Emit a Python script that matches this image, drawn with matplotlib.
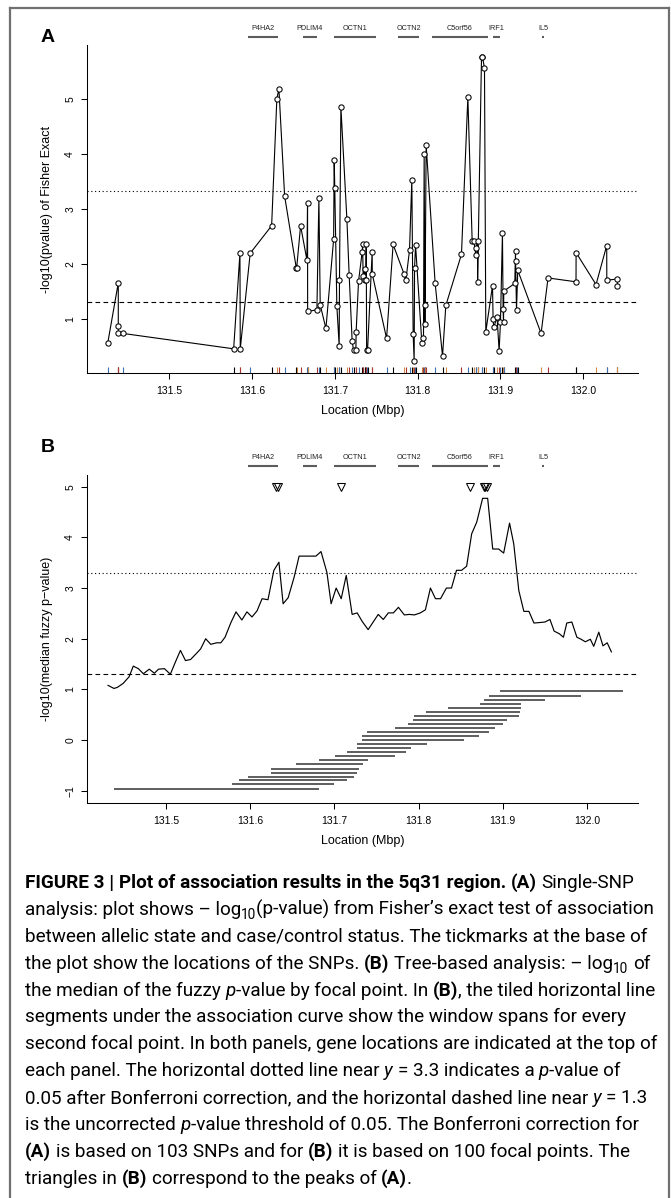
import numpy as np
import matplotlib
matplotlib.use("Agg")
import matplotlib.pyplot as plt
from matplotlib import font_manager
from matplotlib.font_manager import FontProperties
from matplotlib.lines import Line2D

W, H = 671, 1198

### Panel A: -log10 p of Fisher exact test per SNP (Mbp, value)
snp_pos = [131.4256, 131.4384, 131.4384, 131.4386, 131.4441, 131.5778, 131.5854, 131.5858,
           131.5978, 131.6237, 131.6300, 131.6325, 131.6394, 131.6534, 131.6540, 131.6587,
           131.6663, 131.6671, 131.6672, 131.6784, 131.6808, 131.6824, 131.6893, 131.6986,
           131.6993, 131.7000, 131.7025, 131.7053, 131.7057, 131.7074, 131.7146, 131.7174,
           131.7210, 131.7227, 131.7255, 131.7258, 131.7287, 131.7331, 131.7336, 131.7343,
           131.7360, 131.7363, 131.7375, 131.7380, 131.7385, 131.7396, 131.7452, 131.7453,
           131.7626, 131.7705, 131.7835, 131.7859, 131.7903, 131.7931, 131.7947, 131.7959,
           131.7964, 131.7976, 131.8052, 131.8072, 131.8080, 131.8088, 131.8089, 131.8104,
           131.8213, 131.8302, 131.8342, 131.8531, 131.8608, 131.8660, 131.8680, 131.8705,
           131.8708, 131.8725, 131.8726, 131.8773, 131.8785, 131.8809, 131.8825, 131.8906,
           131.8913, 131.8921, 131.8961, 131.8986, 131.9002, 131.9026, 131.9034, 131.9039,
           131.9042, 131.9175, 131.9184, 131.9185, 131.9196, 131.9211, 131.9493, 131.9577,
           131.9915, 131.9916, 132.0157, 132.0286, 132.0287, 132.0415, 132.0416]
snp_logp = [0.55, 1.65, 0.86, 0.73, 0.73, 0.45, 2.19, 0.45,
            2.19, 2.69, 5.00, 5.18, 3.23, 1.93, 1.93, 2.69,
            2.07, 3.11, 1.13, 1.16, 3.19, 1.25, 0.82, 2.44,
            3.88, 3.37, 1.23, 0.51, 1.70, 4.85, 2.82, 1.79,
            0.59, 0.42, 0.42, 0.76, 1.68, 2.21, 2.35, 1.77,
            1.90, 1.71, 1.70, 2.35, 0.42, 0.42, 2.22, 1.81,
            0.64, 2.35, 1.82, 1.70, 2.24, 3.53, 0.72, 0.23,
            1.92, 2.34, 0.56, 0.65, 4.00, 1.24, 0.90, 4.16,
            1.64, 0.32, 1.24, 2.17, 5.03, 2.42, 2.42, 2.15,
            2.29, 2.42, 1.67, 5.76, 5.76, 5.56, 0.76, 1.60,
            0.99, 0.84, 1.03, 0.41, 0.93, 2.56, 1.17, 0.93,
            1.50, 1.64, 2.23, 2.05, 1.16, 1.88, 0.73, 1.74,
            1.67, 2.20, 1.62, 2.33, 1.70, 1.72, 1.60]

### gene track (same drawing in both panels)
gene_names = ["P4HA2", "PDLIM4", "OCTN1", "OCTN2", "C5orf56", "IRF1", "IL5"]
gene_start = [131.5953, 131.6615, 131.6987, 131.7762, 131.8175, 131.8909, 131.9508]
gene_end = [131.6314, 131.6780, 131.7504, 131.8019, 131.8847, 131.9001, 131.9529]

### Panel B: median fuzzy p-value by focal point
focal_pos = [131.431, 131.438, 131.442, 131.449, 131.456, 131.461, 131.467, 131.473, 131.480, 131.486,
             131.491, 131.498, 131.505, 131.511, 131.517, 131.523, 131.529, 131.536, 131.541, 131.547,
             131.553, 131.560, 131.565, 131.570, 131.577, 131.583, 131.590, 131.596, 131.602, 131.608,
             131.614, 131.621, 131.628, 131.634, 131.639, 131.645, 131.652, 131.658, 131.665, 131.671,
             131.678, 131.684, 131.691, 131.696, 131.702, 131.708, 131.714, 131.721, 131.727, 131.733,
             131.740, 131.746, 131.752, 131.758, 131.764, 131.770, 131.776, 131.783, 131.789, 131.795,
             131.802, 131.808, 131.814, 131.820, 131.826, 131.833, 131.839, 131.845, 131.851, 131.857,
             131.863, 131.869, 131.876, 131.882, 131.888, 131.895, 131.901, 131.908, 131.913, 131.919,
             131.925, 131.931, 131.937, 131.944, 131.950, 131.956, 131.961, 131.967, 131.972, 131.976,
             131.982, 131.988, 131.993, 131.998, 132.004, 132.008, 132.014, 132.019, 132.024, 132.029]
focal_logp = [1.08, 1.02, 1.04, 1.12, 1.25, 1.46, 1.41, 1.31, 1.40, 1.32,
              1.40, 1.41, 1.30, 1.54, 1.77, 1.57, 1.59, 1.71, 1.80, 2.00,
              1.89, 1.92, 1.92, 2.03, 2.32, 2.53, 2.37, 2.53, 2.43, 2.55,
              2.79, 2.77, 3.35, 3.51, 2.69, 2.81, 3.21, 3.63, 3.63, 3.63,
              3.63, 3.72, 3.31, 2.69, 3.00, 2.79, 3.25, 2.48, 2.51, 2.34,
              2.18, 2.33, 2.48, 2.38, 2.51, 2.51, 2.62, 2.47, 2.48, 2.47,
              2.51, 2.57, 3.00, 2.79, 2.79, 3.00, 3.00, 3.35, 3.35, 3.43,
              4.07, 4.30, 4.77, 4.77, 3.77, 3.77, 3.69, 4.28, 3.87, 2.95,
              2.54, 2.54, 2.31, 2.32, 2.33, 2.38, 2.15, 2.10, 2.03, 2.31,
              2.33, 2.03, 1.99, 1.94, 1.99, 1.85, 2.13, 1.86, 1.92, 1.74]

# window spans for every second focal point
span_level = [0.96, 0.87, 0.79, 0.72, 0.64, 0.56, 0.48, 0.40, 0.32, 0.24, 0.16, 0.08, 0.00,
              -0.08, -0.16, -0.24, -0.32, -0.40, -0.48, -0.56, -0.64, -0.72, -0.79, -0.87, -0.96]
span_start = [131.8968, 131.8831, 131.8777, 131.8732, 131.8346, 131.8082, 131.7945, 131.7936,
              131.7868, 131.7719, 131.7386, 131.7331, 131.7331, 131.7264, 131.7264, 131.7150,
              131.7005, 131.6818, 131.6545, 131.6241, 131.6241, 131.5977, 131.5863, 131.5778,
              131.4378]
span_end = [132.0431, 131.9931, 131.9505, 131.9219, 131.9219, 131.9204, 131.9195, 131.9050,
            131.9005, 131.8913, 131.8831, 131.8717, 131.8536, 131.8095, 131.7913, 131.7846,
            131.7719, 131.7400, 131.7341, 131.7286, 131.7264, 131.7232, 131.7150, 131.7000,
            131.6818]

# peaks of panel A, shown as triangles in panel B
peak_pos = [131.6300, 131.6325, 131.7074, 131.8608, 131.8773, 131.8785, 131.8809]
peak_level = 5.0

xticks = [131.5, 131.6, 131.7, 131.8, 131.9, 132.0]
alpha = 0.05
n_snps = 103
n_focal = 100

caption = [
    [("FIGURE 3 | Plot of association results in the 5q31 region.", "b"), (" ", "n"), ("(A)", "b"),
     (" Single-SNP", "n")],
    [("analysis: plot shows \u2013 log", "n"), ("10", "sub"),
     ("(p-value) from Fisher\u2019s exact test of association", "n")],
    [("between allelic state and case/control status. The tickmarks at the base of", "n")],
    [("the plot show the locations of the SNPs. ", "n"), ("(B)", "b"),
     (" Tree-based analysis: \u2013 log", "n"), ("10", "sub"), (" of", "n")],
    [("the median of the fuzzy ", "n"), ("p", "i"), ("-value by focal point. In ", "n"), ("(B)", "b"),
     (", the tiled horizontal line", "n")],
    [("segments under the association curve show the window spans for every", "n")],
    [("second focal point. In both panels, gene locations are indicated at the top of", "n")],
    [("each panel. The horizontal dotted line near ", "n"), ("y", "i"), (" = 3.3 indicates a ", "n"),
     ("p", "i"), ("-value of", "n")],
    [("0.05 after Bonferroni correction, and the horizontal dashed line near ", "n"), ("y", "i"),
     (" = 1.3", "n")],
    [("is the uncorrected ", "n"), ("p", "i"), ("-value threshold of 0.05. The Bonferroni correction for", "n")],
    [("(A)", "b"), (" is based on 103 SNPs and for ", "n"), ("(B)", "b"),
     (" it is based on 100 focal points. The", "n")],
    [("triangles in ", "n"), ("(B)", "b"), (" correspond to the peaks of ", "n"), ("(A)", "b"), (".", "n")],
]

rug_colors = ["#3a6fb0", "black", "#cf8a47", "#a83232"]

plt.rcParams["font.family"] = ["Liberation Sans", "DejaVu Sans"]

fig = plt.figure(figsize=(W / 100, H / 100), dpi=100)


def px_axes(left, top, right, bottom):
    return fig.add_axes([left / W, 1 - bottom / H, (right - left) / W, (bottom - top) / H])


def style_axes(ax, yticks, ylabel):
    for s in ["top", "right"]:
        ax.spines[s].set_visible(False)
    for s in ["left", "bottom"]:
        ax.spines[s].set_linewidth(0.75)
    ax.set_xticks(xticks)
    ax.set_xticklabels(["%.1f" % t for t in xticks])
    ax.set_yticks(yticks)
    ax.set_yticklabels(["%d" % t if t >= 0 else "\u2212%d" % -t for t in yticks])
    ax.tick_params(length=4.5, width=0.75, labelsize=7.5, pad=4.5)
    ax.tick_params(axis="y", labelrotation=90, pad=4)
    for lbl in ax.get_yticklabels():
        lbl.set_va("center")
    ax.set_xlabel("Location (Mbp)", fontsize=9, labelpad=7)
    ax.set_ylabel(ylabel, fontsize=9, labelpad=9)


def gene_track(top):
    g = px_axes(87, top, 638, top + 20)
    g.set_xlim(131.4006, 132.0664)
    g.set_ylim(20, 0)
    g.axis("off")
    g.hlines([16.7] * len(gene_names), gene_start, gene_end, color="#5c5c5c", lw=1.5)
    for name, a, b in zip(gene_names, gene_start, gene_end):
        g.text((a + b) / 2, 9, name, ha="center", va="center", fontsize=5.2, color="#222222")


bonf_a = -np.log10(alpha / n_snps)
bonf_b = -np.log10(alpha / n_focal)
nominal = -np.log10(alpha)
dotted = (0, (1, 2.4))
dashed = (0, (4.2, 3))

# ---- panel A
axA = px_axes(87, 45, 638, 373)
axA.plot(snp_pos, snp_logp, color="black", lw=0.8, marker="o", ms=3.8,
         mfc="white", mec="black", mew=0.75, zorder=3)
rug_c = [rug_colors[i % len(rug_colors)] for i in range(len(snp_pos))]
axA.vlines(snp_pos, 0, 0.019, transform=axA.get_xaxis_transform(), colors=rug_c, lw=0.8)
axA.axhline(bonf_a, color="black", lw=0.8, ls=dotted)
axA.axhline(nominal, color="black", lw=0.8, ls=dashed)
axA.set_xlim(131.4006, 132.0664)
axA.set_ylim(0.01, 5.98)
style_axes(axA, [1, 2, 3, 4, 5], "-log10(pvalue) of Fisher Exact")
gene_track(20)

# ---- panel B
axB = px_axes(87, 475, 638, 803)
axB.plot(focal_pos, focal_logp, color="black", lw=0.85)
axB.hlines(span_level, span_start, span_end, color="#333333", lw=1.1)
axB.plot(peak_pos, [peak_level] * len(peak_pos), ls="none", marker="v", ms=6,
         mfc="none", mec="black", mew=0.75)
axB.axhline(bonf_b, color="black", lw=0.8, ls=dotted)
axB.axhline(nominal, color="black", lw=0.8, ls=dashed)
axB.set_xlim(131.406, 132.0606)
axB.set_ylim(-1.24, 5.23)
style_axes(axB, [-1, 0, 1, 2, 3, 4, 5], "-log10(median fuzzy p\u2212value)")
gene_track(449)

fig.text(41 / W, 1 - 42 / H, "A", fontsize=14, fontweight="bold", va="baseline")
fig.text(41 / W, 1 - 452 / H, "B", fontsize=14, fontweight="bold", va="baseline")

# ---- frame around the figure
frame_kw = dict(color="#707070", lw=1.6, transform=fig.transFigure)
fig.add_artist(Line2D([10 / W, 10 / W], [-0.01, 1 - 8 / H], **frame_kw))
fig.add_artist(Line2D([10 / W, 669 / W], [1 - 8 / H, 1 - 8 / H], **frame_kw))
fig.add_artist(Line2D([669 / W, 669 / W], [-0.01, 1 - 8 / H], **frame_kw))

# ---- caption
have = {f.name for f in font_manager.fontManager.ttflist}
body_family = ["Roboto"] if "Roboto" in have else ["Liberation Sans"]
bold_family = ["Liberation Sans Narrow"] if "Liberation Sans Narrow" in have else body_family

fig.canvas.draw()
rend = fig.canvas.get_renderer()


def props(size, bsize):
    return {
        "n": FontProperties(family=body_family, weight="normal", size=size),
        "i": FontProperties(family=body_family, weight="normal", style="italic", size=size),
        "b": FontProperties(family=bold_family, weight="bold", size=bsize),
        "sub": FontProperties(family=body_family, weight="normal", size=size * 0.72),
    }


def adv(s, fp):
    w1 = rend.get_text_width_height_descent("|" + s + "|", fp, False)[0]
    w0 = rend.get_text_width_height_descent("||", fp, False)[0]
    return w1 - w0


def line_width(pieces, fps):
    return sum(adv(t, fps[st]) for t, st in pieces)


size = 12.0
fps = props(size, size)
size *= 630 / line_width(caption[1], fps)
fps = props(size, size)
bsize = size
w1 = line_width(caption[0], fps)
if w1 > 632:
    bold_w = sum(adv(t, fps["b"]) for t, st in caption[0] if st == "b")
    bsize = size * (bold_w - (w1 - 632)) / bold_w
fps = props(size, bsize)

x0, first, step = 25, 888, 26.9
for i, pieces in enumerate(caption):
    base = first + i * step
    x = x0
    for text, st in pieces:
        fp = fps[st]
        shift = 0.3 * size if st == "sub" else 0
        body = text.strip(" ")
        if body:
            lead = len(text) - len(text.lstrip(" "))
            fig.text((x + adv(" " * lead, fp)) / W, 1 - (base + shift) / H, body,
                     fontproperties=fp, va="baseline")
        x += adv(text, fp)

fig.savefig("out.png", dpi=100)
